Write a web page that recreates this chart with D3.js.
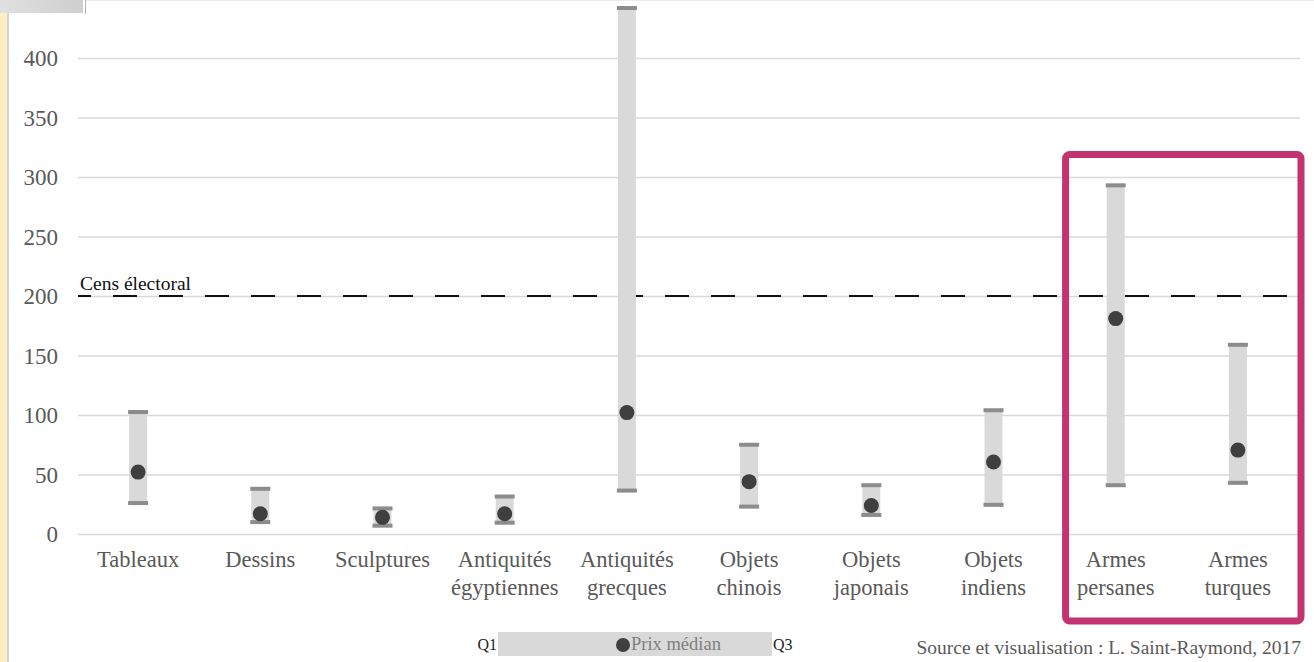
<!DOCTYPE html>
<html><head><meta charset="utf-8">
<script src="https://cdn.jsdelivr.net/npm/d3@7"></script>
<style>
html,body{margin:0;padding:0;background:#fff;}
svg{display:block;font-family:"Liberation Serif","Times New Roman",serif;}
svg text{font-family:"Liberation Serif","Times New Roman",serif;}
</style></head>
<body>
<svg id="c" width="1314" height="662"></svg>
<script>
const categories = [["Tableaux"],["Dessins"],["Sculptures"],["Antiquités","égyptiennes"],["Antiquités","grecques"],["Objets","chinois"],["Objets","japonais"],["Objets","indiens"],["Armes","persanes"],["Armes","turques"]];
const q1Values = [26, 10, 7, 9.5, 36.5, 23, 16, 24.5, 41, 43];
const medianValues = [52, 17, 14, 17, 102, 44, 24, 60.5, 181, 70.5];
const q3Values = [102.5, 38, 21.5, 31.5, 442, 75, 41, 104, 293, 159];
const yTicks = [0, 50, 100, 150, 200, 250, 300, 350, 400];
const censValue = 200;
const censLabel = "Cens électoral";
const legendLabels = ["Q1", "Prix médian", "Q3"];
const sourceText = "Source et visualisation : L. Saint-Raymond, 2017";
const highlighted = ["Armes persanes", "Armes turques"];

const svg = d3.select("#c");
const names = categories.map(c => c.join(" "));

// page decoration
svg.append("rect").attr("x",0).attr("y",12).attr("width",7).attr("height",650).attr("fill","#fdeec4");
svg.append("rect").attr("x",7).attr("y",12).attr("width",2).attr("height",650).attr("fill","#d4d4d4");
const grad = svg.append("defs").append("linearGradient").attr("id","g1").attr("x1",0).attr("x2",1);
grad.append("stop").attr("offset","0%").attr("stop-color","#e0e0e0");
grad.append("stop").attr("offset","100%").attr("stop-color","#cfcfcf");
svg.append("rect").attr("x",0).attr("y",0).attr("width",83).attr("height",13).attr("fill","url(#g1)");
svg.append("line").attr("x1",85.5).attr("x2",85.5).attr("y1",0).attr("y2",14).attr("stroke","#b0b0b0").attr("stroke-width",1);
svg.append("line").attr("x1",86).attr("x2",1314).attr("y1",0.5).attr("y2",0.5).attr("stroke","#ececec").attr("stroke-width",1);

const x = d3.scaleBand().domain(names).range([77, 1299]).padding(0);
const y = d3.scaleLinear().domain([0, 400]).range([534, 58]);
const cx = n => x(n) + x.bandwidth() / 2;

// grid
const yAxis = d3.axisLeft(y).tickValues(yTicks).tickSize(-(1300 - 78)).tickPadding(20).tickFormat(d3.format("d"));
const gy = svg.append("g").attr("transform","translate(78,0)").call(yAxis);
gy.attr("font-family", null);
gy.select(".domain").remove();
gy.selectAll(".tick line").attr("stroke","#d9d9d9").attr("stroke-width",1.5);
gy.selectAll(".tick text").attr("fill","#595959").attr("font-size",23).attr("x",-20).attr("dy","0.33em");

// dashed cens line
svg.append("line").attr("x1",78).attr("x2",1300).attr("y1",y(censValue)).attr("y2",y(censValue))
  .attr("stroke","#111").attr("stroke-width",2).attr("stroke-dasharray","24,22").attr("stroke-dashoffset",11);
svg.append("text").attr("x",80).attr("y",y(censValue)-6).attr("font-size",19.5).attr("fill","#111").text(censLabel);

// bars
const bw = 18, cw = 20, ch = 4;
const g = svg.append("g");
names.forEach((n, i) => {
  g.append("rect").attr("x", cx(n) - bw/2).attr("y", y(q3Values[i])).attr("width", bw)
    .attr("height", y(q1Values[i]) - y(q3Values[i])).attr("fill","#d9d9d9");
  g.append("rect").attr("x", cx(n) - cw/2).attr("y", y(q3Values[i]) - ch/2).attr("width", cw).attr("height", ch).attr("fill","#8c8c8c");
  g.append("rect").attr("x", cx(n) - cw/2).attr("y", y(q1Values[i]) - ch/2).attr("width", cw).attr("height", ch).attr("fill","#8c8c8c");
  g.append("circle").attr("cx", cx(n)).attr("cy", y(medianValues[i])).attr("r", 7.5).attr("fill","#3f3f3f");
});

// category labels
categories.forEach((c, i) => {
  const t = svg.append("text").attr("x", cx(names[i])).attr("y", 567).attr("text-anchor","middle")
    .attr("font-size",22.5).attr("fill","#595959");
  c.forEach((line, j) => t.append("tspan").attr("x", cx(names[i])).attr("dy", j === 0 ? 0 : 28).text(line));
});

// highlight box
const hx0 = x(highlighted[0]), hx1 = x(highlighted[1]) + x.bandwidth();
svg.append("rect").attr("x", hx0 + 11).attr("y", 154.5).attr("width", (hx1 + 2) - (hx0 + 11)).attr("height", 621 - 154.5)
  .attr("rx", 4).attr("fill","none").attr("stroke","#c3336f").attr("stroke-width",7);

// legend
svg.append("rect").attr("x",498).attr("y",632).attr("width",274).attr("height",24).attr("fill","#d9d9d9");
svg.append("text").attr("x",497).attr("y",650).attr("text-anchor","end").attr("font-size",16).attr("fill","#222").text(legendLabels[0]);
svg.append("circle").attr("cx",623).attr("cy",645).attr("r",7).attr("fill","#3f3f3f");
svg.append("text").attr("x",631).attr("y",650).attr("font-size",18.5).attr("fill","#7f7f7f").text(legendLabels[1]);
svg.append("text").attr("x",773).attr("y",650).attr("font-size",16).attr("fill","#222").text(legendLabels[2]);

// source
svg.append("text").attr("x",1301).attr("y",654).attr("text-anchor","end").attr("font-size",19.5).attr("fill","#595959").text(sourceText);
</script>
</body></html>
